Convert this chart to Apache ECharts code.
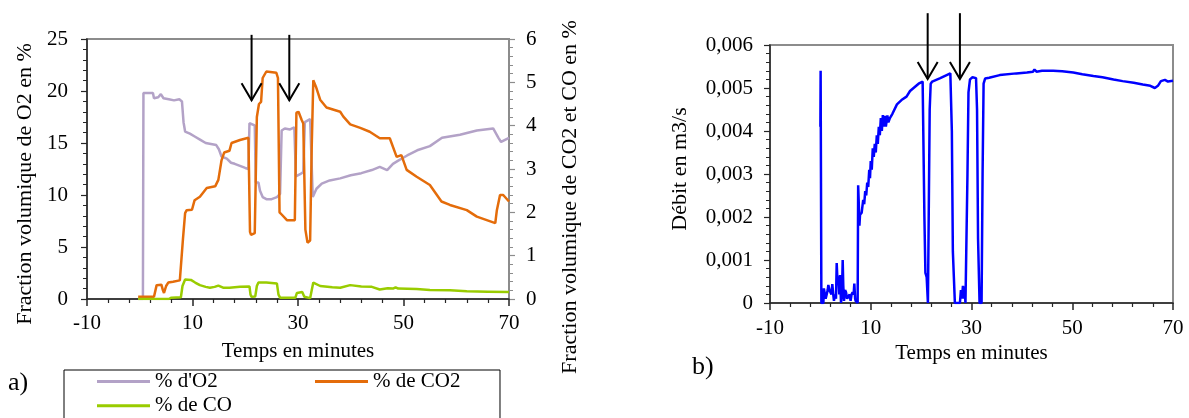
<!DOCTYPE html>
<html><head><meta charset="utf-8">
<script src="https://cdn.jsdelivr.net/npm/echarts@6/dist/echarts.min.js"></script>
<style>html,body{margin:0;padding:0;background:#fff}#c{width:1189px;height:418px}</style>
</head><body><div id="c"></div>
<script>
// ---------- data ----------
const xMajorTicks = [-10, 10, 30, 50, 70];
const xMinorTicks = [-6, -2, 2, 6, 14, 18, 22, 26, 34, 38, 42, 46, 54, 58, 62, 66];

// % O2 (left axis of chart a) : [time in minutes, value]
const o2Series = [[-0.3,0],[0.6,0],[0.7,19.8],[2.5,19.8],[2.7,19.3],[3.5,19.4],[4,19.7],[4.5,19.3],[5.5,19.2],[6.5,19.1],[7.5,19.2],[8,19.0],[8.3,17],[8.6,16.1],[9.5,15.9],[10.5,15.6],[11.5,15.3],[12.5,15.0],[13.5,14.9],[14.5,14.8],[15,14.4],[15.5,13.7],[16.5,13.5],[17.3,13.1],[18,13.0],[19,12.8],[20,12.6],[20.6,12.5],[20.8,16.9],[21.1,17.0],[21.8,16.7],[22,11.2],[22.5,11.2],[22.8,10.4],[23.3,9.8],[24,9.6],[25,9.6],[26,9.8],[26.6,10.1],[26.9,16.2],[27.5,16.4],[28.5,16.3],[29.3,16.5],[29.6,11.8],[30.4,12.0],[31,12.2],[31.3,17.0],[32.3,17.3],[32.8,9.8],[33.5,10.6],[34.5,11.1],[36,11.4],[38,11.6],[40,11.9],[42,12.1],[44,12.4],[45.5,12.7],[46.9,12.4],[48,13.0],[49,13.3],[50.7,13.8],[52.6,14.3],[55,14.7],[57.3,15.5],[60.7,15.8],[63.9,16.2],[67,16.4],[68,15.5],[68.5,15.1],[70,15.5]];

// % CO2 (right axis of chart a)
const co2Series = [[-0.3,0.05],[2.7,0.05],[3.2,0.32],[4.1,0.33],[4.4,0.2],[4.6,0.14],[5.0,0.3],[5.4,0.38],[6.3,0.4],[7.6,0.43],[7.9,0.44],[8.2,1.4],[8.6,1.98],[8.9,2.05],[9.9,2.06],[10.4,2.28],[11.4,2.36],[12.7,2.56],[14.3,2.6],[14.9,2.75],[15.5,3.2],[16.0,3.38],[17.0,3.42],[17.4,3.6],[19,3.67],[20.6,3.72],[20.9,1.55],[21.1,1.48],[21.8,1.52],[22.2,4.2],[22.6,4.5],[23.0,4.55],[23.3,5.1],[24,5.25],[25.9,5.22],[26.2,5.1],[26.5,2.0],[26.9,1.95],[27.9,1.82],[29.4,1.82],[29.7,4.3],[30.1,4.32],[30.7,4.13],[31.0,4.05],[31.4,1.6],[31.8,1.3],[32.3,1.35],[32.6,3.5],[32.9,5.05],[33.4,4.9],[34.2,4.6],[35.4,4.42],[38,4.32],[38.6,4.21],[39.9,4.03],[41.8,3.95],[43.6,3.86],[45.5,3.71],[47.4,3.71],[48.7,3.28],[49.6,3.32],[50.6,2.98],[52.5,2.82],[55,2.63],[57.2,2.25],[58.8,2.17],[62,2.05],[63.9,1.9],[67.4,1.75],[67.7,2.05],[68.3,2.4],[68.9,2.4],[70,2.25]];

// % CO (right axis of chart a)
const coSeries = [[-0.3,0.0],[5.5,0.0],[6,0.03],[7.8,0.04],[8.1,0.3],[8.6,0.45],[9.7,0.44],[10.5,0.38],[11.4,0.32],[12.5,0.28],[13.3,0.26],[14.2,0.28],[14.9,0.31],[15.8,0.26],[17,0.26],[19,0.28],[20.8,0.29],[21.0,0.1],[21.2,0.05],[21.9,0.06],[22.2,0.3],[22.5,0.38],[24,0.38],[26.0,0.36],[26.3,0.1],[26.6,0.03],[29.5,0.03],[29.8,0.14],[30.8,0.16],[31.2,0.05],[32.3,0.02],[32.6,0.2],[32.9,0.38],[34.2,0.3],[36.5,0.27],[38,0.26],[39.9,0.32],[42,0.29],[44,0.28],[45.5,0.22],[47,0.25],[48,0.24],[48.5,0.27],[49,0.24],[52.5,0.23],[55,0.21],[58.8,0.2],[62,0.18],[66,0.17],[70,0.16]];

// Débit (chart b), m3/s
const flowSeries = [[0,0.0041],[0.05,0.0054],[0.12,0.0054],[0.2,0],[0.6,0],[0.7,0.00034],[0.92,0.00034],[1.05,0.0001],[1.25,0.00014],[1.45,0.0003],[1.58,0.00042],[1.8,0.0003],[2.05,0.00033],[2.2,0.0002],[2.37,0.00044],[2.55,0.0002],[2.7,0.00005],[2.9,0.0002],[3.1,0.0001],[3.24,0.00093],[3.4,0.0005],[3.57,0.00062],[3.75,0.0002],[3.9,0.00065],[4.1,0],[4.3,0.0003],[4.43,0.001],[4.55,0.0004],[4.69,0.00005],[4.9,0.0003],[5.09,0.00025],[5.3,0.0001],[5.55,0.00015],[5.8,0.0002],[6.0,0.00005],[6.2,0.0002],[6.4,0.00025],[6.6,0.0002],[6.74,0.00045],[6.9,0.0001],[7.0,0.00005],[7.4,0],[7.5,0.00274],[7.6,0.0024],[7.75,0.0018],[7.87,0.00205],[8.2,0.0021],[8.5,0.0024],[8.7,0.0023],[8.9,0.0026],[9.1,0.0025],[9.3,0.0028],[9.5,0.0027],[9.7,0.0031],[9.85,0.0029],[10.0,0.0033],[10.2,0.0031],[10.4,0.0036],[10.6,0.0034],[10.8,0.0037],[11.0,0.0035],[11.2,0.0039],[11.4,0.0037],[11.6,0.0041],[11.8,0.0039],[12.0,0.0043],[12.2,0.004],[12.4,0.00437],[12.6,0.0041],[12.8,0.00435],[13.0,0.0041],[13.3,0.00436],[13.5,0.0042],[13.8,0.0043],[14.3,0.0044],[15.2,0.00462],[16.1,0.00472],[17.1,0.0048],[17.8,0.00493],[18.5,0.005],[19.5,0.0051],[20.3,0.00515],[20.5,0.00514],[20.65,0.002],[20.85,0.0007],[21.1,0.0006],[21.35,0],[21.55,0],[21.7,0.0045],[21.9,0.0051],[22.2,0.00515],[23.8,0.00523],[25.8,0.00534],[26.0,0.00537],[26.1,0.004],[26.3,0.0012],[26.5,0.0006],[26.7,0],[27.7,0],[27.9,0.0003],[28.1,0.0001],[28.3,0.0004],[28.5,0.0001],[28.6,0.00038],[28.8,0],[29.0,0],[29.2,0.003],[29.4,0.0049],[29.7,0.0052],[30.2,0.00525],[30.9,0.00523],[31.1,0.0045],[31.3,0.0015],[31.6,0],[32.0,0],[32.2,0.003],[32.4,0.0051],[32.7,0.00522],[33.5,0.00524],[35.6,0.0053],[38.9,0.00534],[41,0.00536],[42.2,0.00538],[42.5,0.00543],[42.9,0.00538],[44,0.0054],[46.2,0.0054],[48,0.00539],[50.2,0.00536],[52,0.00532],[54.2,0.00528],[56,0.00525],[58.2,0.0052],[60,0.00516],[62.2,0.00512],[64,0.00508],[65.5,0.00505],[66.4,0.005],[67,0.00505],[67.6,0.00516],[68.4,0.00519],[69,0.00515],[70,0.00517]];

// arrows : [time, top value, tip value]
const arrowsA = [[21.2, 25.4, 19.1], [28.35, 25.4, 19.1]];
const arrowsB = [[21.3, 0.00674, 0.00521], [27.7, 0.00674, 0.00521]];

// ---------- chart ----------
const FONT = '"Liberation Serif", "Times New Roman", serif';
const txt = {fontFamily: FONT, fontSize: 21, color: '#000'};
const ttl = {fontFamily: FONT, fontSize: 22, color: '#000'};
const dark = '#262626', grey = '#8c8c8c';

function mainX(grid, nameGap, margin) {
  return {type:'value', gridIndex:grid, position:'bottom', min:-10, max:70,
    axisLine:{show:true, onZero:false, lineStyle:{color:dark, width:1.5}},
    axisTick:{show:true, customValues:xMajorTicks, length:7, lineStyle:{color:dark, width:1.5}},
    axisLabel:Object.assign({customValues:xMajorTicks, margin:margin}, txt),
    splitLine:{show:false},
    name:'Temps en minutes', nameLocation:'middle', nameGap:nameGap, nameTextStyle:txt, nameMoveOverlap:false};
}
function minorX(grid) {
  return {type:'value', gridIndex:grid, position:'bottom', min:-10, max:70,
    axisLine:{show:false, onZero:false},
    axisTick:{show:true, customValues:xMinorTicks, length:4, lineStyle:{color:dark, width:1.2}},
    axisLabel:{show:false}, splitLine:{show:false}};
}
function yAx(o) {
  const c = o.color || dark;
  return {type:'value', gridIndex:o.grid, position:o.pos, min:o.min, max:o.max, interval:o.interval,
    axisLine:{show:true, onZero:false, lineStyle:{color:c, width:o.lw || 1.5}},
    axisTick:{show:true, length:6, lineStyle:{color:c, width:1.2}},
    minorTick:{show:true, splitNumber:5, length:4, lineStyle:{color:c, width:1}},
    axisLabel:Object.assign({margin:o.margin, formatter:o.fmt}, txt),
    splitLine:{show:false}, minorSplitLine:{show:false},
    name:o.name, nameLocation:'middle', nameGap:o.gap,
    nameTextStyle:Object.assign({padding:o.pad}, ttl), nameMoveOverlap:false};
}
function arrowItem(params, api) {
  const top = api.coord([api.value(0), api.value(1)]);
  const tip = api.coord([api.value(0), api.value(2)]);
  return {type:'group', children:[
    {type:'line', shape:{x1:top[0], y1:top[1], x2:tip[0], y2:tip[1]}, style:{stroke:'#000', lineWidth:2}},
    {type:'polyline', shape:{points:[[tip[0]-10, tip[1]-17],[tip[0], tip[1]],[tip[0]+10, tip[1]-17]]}, style:{stroke:'#000', lineWidth:2, fill:null}}
  ]};
}
function lineS(name, data, xi, yi, color) {
  return {type:'line', name:name, data:data, xAxisIndex:xi, yAxisIndex:yi, showSymbol:false, symbol:'none',
    lineStyle:{color:color, width:2.5}, itemStyle:{color:color}, emphasis:{disabled:true}, clip:true};
}
const legendBase = {orient:'vertical', itemWidth:53, itemHeight:3, itemGap:3.3, icon:'rect',
  selectedMode:false, textStyle:txt};

const chart = echarts.init(document.getElementById('c'));
chart.setOption({
  animation:false,
  backgroundColor:'#fff',
  grid:[
    {left:87, top:39, width:422, height:260, show:true, borderColor:grey, borderWidth:2, backgroundColor:'transparent', outerBoundsMode:'none', containLabel:false},
    {left:770, top:45, width:403, height:258, show:true, borderColor:grey, borderWidth:2, backgroundColor:'transparent', outerBoundsMode:'none', containLabel:false}
  ],
  xAxis:[mainX(0, 42, 14), minorX(0), mainX(1, 40, 15), minorX(1)],
  yAxis:[
    yAx({grid:0, pos:'left', min:0, max:25, interval:5, margin:19, gap:51, pad:[0,30,0,0], name:'Fraction volumique de O2 en %'}),
    yAx({grid:0, pos:'right', min:0, max:6, interval:1, margin:17, gap:50, pad:[0,56,0,0], color:grey, lw:2, name:'Fraction volumique de CO2 et CO en %'}),
    yAx({grid:1, pos:'left', min:0, max:0.006, interval:0.001, margin:17, gap:79, pad:[0,0,0,10], name:'Débit en m3/s',
         fmt:function(v){ return v === 0 ? '0' : v.toFixed(3).replace('.', ','); }})
  ],
  legend:[
    Object.assign({left:64, top:370, width:200, height:80, padding:[1,268,30,33], borderColor:'#000', borderWidth:1,
      data:["% d'O2", '% de CO']}, legendBase),
    Object.assign({left:315, top:371, width:200, height:40, padding:0, data:['% de CO2']}, legendBase)
  ],
  graphic:[
    {type:'text', left:8, top:370, style:{text:'a)', font:'26px "Liberation Serif"', fill:'#000'}},
    {type:'text', left:692, top:354, style:{text:'b)', font:'26px "Liberation Serif"', fill:'#000'}}
  ],
  series:[
    lineS("% d'O2", o2Series, 0, 0, '#b3a2c7'),
    lineS('% de CO2', co2Series, 0, 1, '#e46c0a'),
    lineS('% de CO', coSeries, 0, 1, '#99cc00'),
    lineS('Débit', flowSeries, 2, 2, '#0000ff'),
    {type:'custom', xAxisIndex:0, yAxisIndex:0, data:arrowsA, renderItem:arrowItem, clip:false, z:10, silent:true},
    {type:'custom', xAxisIndex:2, yAxisIndex:2, data:arrowsB, renderItem:arrowItem, clip:false, z:10, silent:true}
  ]
});
</script></body></html>
